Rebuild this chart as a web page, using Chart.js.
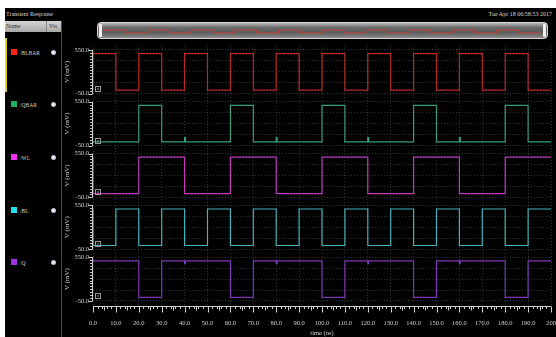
<!DOCTYPE html>
<html>
<head>
<meta charset="utf-8">
<script src="https://cdn.jsdelivr.net/npm/chart.js@4.4.0/dist/chart.umd.min.js"></script>
<style>
  body { margin: 0; background: #fff; width: 556px; height: 337px; overflow: hidden; position: relative; font-family: "Liberation Serif", serif; }
  .abs { position: absolute; }
  #win { left: 5px; top: 8px; width: 551px; height: 329px; background: #000; }
  .txt { color: #d8d8d8; font-size: 6px; white-space: nowrap; line-height: 1; }
  #hdr { left: 5px; top: 21px; width: 56px; height: 11px; background: linear-gradient(#d4d4d4, #a8a8a8); }
  #hdr span { position: absolute; top: 2px; font-size: 6px; color: #333; }
  #sep { left: 61px; top: 21px; width: 1px; height: 316px; background: #4a4a4a; }
  #sel { left: 5px; top: 38px; width: 2px; height: 54px; background: #e6cf10; }
  .sw { position: absolute; width: 6px; height: 6px; }
  .lab { position: absolute; font-size: 5.5px; color: #d0d0d0; }
  .dot { position: absolute; width: 5px; height: 5px; border-radius: 50%; background: radial-gradient(#fff, #8a9ab8); }
  #scroll { left: 97px; top: 22px; width: 449px; height: 15px; border: 1px solid #d8d8d8; border-radius: 4px;
            background: linear-gradient(#b8b8b8, #6c6c6c 30%, #5a5a5a 60%, #8a8a8a); }
  .hnd { position: absolute; top: 1px; width: 3px; height: 13px; background: #f0f0f0; border-radius: 1px; }
</style>
</head>
<body>
<div id="win" class="abs"></div>
<div class="abs txt" style="left:6px;top:11px;">Transient Response</div>
<div class="abs txt" style="right:4px;top:11px;">Tue Apr 18 06:58:53 2017</div>
<div id="hdr" class="abs"><span style="left:1px;">Name</span><span style="left:44px;">Vis</span>
  <div class="abs" style="left:41px;top:0;width:1px;height:11px;background:#888;"></div></div>
<div id="sep" class="abs"></div>
<div id="sel" class="abs"></div>
<div id="legend"></div>
<div id="scroll" class="abs">
  <div class="hnd" style="left:1px;"></div>
  <div class="hnd" style="right:1px;"></div>
</div>
<canvas id="overview" class="abs" width="436" height="11" style="left:104px;top:26px;"></canvas>
<canvas id="wave" class="abs" width="494" height="297" style="left:62px;top:40px;"></canvas>
<script>
// signal names (top to bottom) and colours
const names = ['/BLBAR', '/QBAR', '/WL', '/BL', '/Q'];
const lineColors = ['#b82a2a', '#3a9c78', '#bc3cbc', '#46b2ba', '#7a38b4'];
const swatchColors = ['#ff2020', '#1fb060', '#f030f0', '#20e0f0', '#a030e0'];

// x axis (ns)
const timeTicks = [0, 10, 20, 30, 40, 50, 60, 70, 80, 90, 100, 110, 120, 130, 140, 150, 160, 170, 180, 190, 200];
const timeLabels = ['0.0', '10.0', '20.0', '30.0', '40.0', '50.0', '60.0', '70.0', '80.0', '90.0', '100.0',
  '110.0', '120.0', '130.0', '140.0', '150.0', '160.0', '170.0', '180.0', '190.0', '200'];
// y axis (mV), same for each strip
const yTicks = [-50, 100, 250, 400, 550];
const yLabels = ['-50.0', '', '', '', '550.0'];

// waveforms: time of each change (ns) and level after it (mV)
const blbarT = [0, 0, 10, 20, 30, 40, 50, 60, 70, 80, 90, 100, 110, 120, 130, 140, 150, 160, 170, 180, 190, 200];
const blbarV = [0, 500, 0, 500, 0, 500, 0, 500, 0, 500, 0, 500, 0, 500, 0, 500, 0, 500, 0, 500, 0, 0];
const qbarT = [0, 20, 30, 40, 40.4, 60, 70, 80, 80.4, 100, 110, 120, 120.4, 140, 150, 160, 160.4, 180, 190, 200];
const qbarV = [0, 500, 0, 60, 0, 500, 0, 60, 0, 500, 0, 60, 0, 500, 0, 60, 0, 500, 0, 0];
const wlT = [0, 0, 20, 40, 60, 80, 100, 120, 140, 160, 180, 200];
const wlV = [500, 0, 500, 0, 500, 0, 500, 0, 500, 0, 500, 500];
const blT = [0, 0, 10, 20, 30, 40, 50, 60, 70, 80, 90, 100, 110, 120, 130, 140, 150, 160, 170, 180, 190, 200];
const blV = [500, 0, 500, 0, 500, 0, 500, 0, 500, 0, 500, 0, 500, 0, 500, 0, 500, 0, 500, 0, 500, 500];
const qT = [0, 20, 30, 40, 40.4, 60, 70, 80, 80.4, 100, 110, 120, 120.4, 140, 150, 160, 160.4, 180, 190, 200];
const qV = [500, 0, 500, 460, 500, 0, 500, 460, 500, 0, 500, 460, 500, 0, 500, 460, 500, 0, 500, 500];

const waves = [[blbarT, blbarV], [qbarT, qbarV], [wlT, wlV], [blT, blV], [qT, qV]];
const font = { family: 'Liberation Serif', size: 6.5 };

// left name panel
const legend = document.getElementById('legend');
const rowY = [49, 101, 154, 207, 259];
names.forEach((n, i) => {
    legend.insertAdjacentHTML('beforeend',
        `<div class="sw" style="left:11px;top:${rowY[i]}px;background:${swatchColors[i]}"></div>` +
        `<div class="lab" style="left:20px;top:${rowY[i] + 0.5}px">${n}</div>` +
        `<div class="dot" style="left:51px;top:${rowY[i] + 0.5}px"></div>`);
});

const toPoints = (t, v) => t.map((x, i) => ({ x: x, y: v[i] }));

// scale ids, bottom strip first so the first signal ends up on top
const ids = ['y4', 'y3', 'y2', 'y1', 'y0'];

function yAxis() {
    return {
        type: 'linear',
        position: 'left',
        stack: 'strips',
        stackWeight: 1,
        min: -105,
        max: 605,
        afterBuildTicks: s => { s.ticks = yTicks.map(v => ({ value: v })); },
        afterFit: s => { s.width = 31; },
        ticks: {
            autoSkip: false,
            padding: 2,
            color: '#d0d0d0',
            font: font,
            callback: (v, i) => yLabels[i]
        },
        grid: { color: 'rgba(255,255,255,0.2)', tickLength: 2, tickColor: 'transparent' },
        border: { display: false, dash: [1, 2] },
        title: { display: true, text: 'V (mV)', color: '#d0d0d0', font: { family: 'Liberation Serif', size: 7 }, padding: 1 }
    };
}

const scales = {
    x: {
        type: 'linear',
        min: 0,
        max: 200,
        afterBuildTicks: s => { s.ticks = timeTicks.map(v => ({ value: v })); },
        afterFit: s => { s.height = 32; s.paddingRight = 0; s.paddingLeft = 0; },
        ticks: { autoSkip: false, maxRotation: 0, padding: 7, color: '#d0d0d0', font: font, callback: (v, i) => timeLabels[i] },
        grid: { color: 'rgba(255,255,255,0.2)', tickLength: 7, tickColor: 'transparent' },
        border: { display: false, dash: [1, 2] },
        title: { display: true, text: 'time (ns)', color: '#d0d0d0', font: font, padding: 0 }
    }
};
ids.forEach(id => { scales[id] = yAxis(); });

// axis lines, ruler ticks and the small strip markers
const rulerPlugin = {
    id: 'ruler',
    afterDraw(chart) {
        const ctx = chart.ctx;
        const area = chart.chartArea;
        const xs = chart.scales.x;
        ctx.save();
        ctx.strokeStyle = '#cfcfcf';
        ctx.lineWidth = 1;
        ctx.beginPath();
        const yb = Math.round(area.bottom) + 1.5;
        ctx.moveTo(area.left, yb);
        ctx.lineTo(area.right, yb);
        for (let t = 0; t <= 200; t++) {
            if (t % 2 && t % 5) continue;
            const px = Math.round(xs.getPixelForValue(t)) + 0.5;
            const len = t % 10 === 0 ? 6 : (t % 5 === 0 ? 4 : 2.5);
            ctx.moveTo(px, yb);
            ctx.lineTo(px, yb + len);
        }
        ids.forEach(id => {
            const ys = chart.scales[id];
            const ax = Math.round(area.left) - 0.5;
            const top = ys.getPixelForValue(550);
            const bot = ys.getPixelForValue(-50);
            ctx.moveTo(ax, top);
            ctx.lineTo(ax, bot);
            for (let v = -50; v <= 550; v += 40) {
                const py = Math.round(ys.getPixelForValue(v)) + 0.5;
                const len = (v === -50 || v === 550) ? 4 : 2.5;
                ctx.moveTo(ax - len, py);
                ctx.lineTo(ax, py);
            }
        });
        ctx.stroke();
        ctx.strokeStyle = '#9a9a9a';
        ctx.fillStyle = '#9a9a9a';
        ids.forEach(id => {
            const ys = chart.scales[id];
            const by = Math.round(ys.getPixelForValue(-50)) - 7.5;
            const bx = Math.round(area.left) + 2.5;
            ctx.strokeRect(bx, by, 5, 5);
            ctx.fillRect(bx + 2, by + 1.5, 1, 2);
        });
        ctx.restore();
    }
};

new Chart(document.getElementById('wave').getContext('2d'), {
    type: 'line',
    data: {
        datasets: waves.map((w, i) => ({
            label: names[i],
            data: toPoints(w[0], w[1]),
            yAxisID: 'y' + i,
            stepped: true,
            borderColor: lineColors[i],
            borderWidth: 1.2,
            pointRadius: 0,
            fill: false
        }))
    },
    options: {
        responsive: false,
        animation: false,
        devicePixelRatio: 1,
        layout: { padding: { top: 3, right: 5, left: 0, bottom: 0 } },
        plugins: { legend: { display: false }, tooltip: { enabled: false } },
        scales: scales
    },
    plugins: [rulerPlugin]
});

// overview trace inside the scroll bar
new Chart(document.getElementById('overview').getContext('2d'), {
    type: 'line',
    data: {
        datasets: [{
            data: toPoints(blbarT, blbarV),
            stepped: true,
            borderColor: 'rgba(214,60,50,0.85)',
            borderWidth: 1,
            pointRadius: 0
        }]
    },
    options: {
        responsive: false,
        animation: false,
        devicePixelRatio: 1,
        layout: { padding: 0 },
        plugins: { legend: { display: false }, tooltip: { enabled: false } },
        scales: {
            x: { type: 'linear', display: false, min: 0, max: 200 },
            y: { display: false, min: -700, max: 1200 }
        }
    }
});
</script>
</body>
</html>
